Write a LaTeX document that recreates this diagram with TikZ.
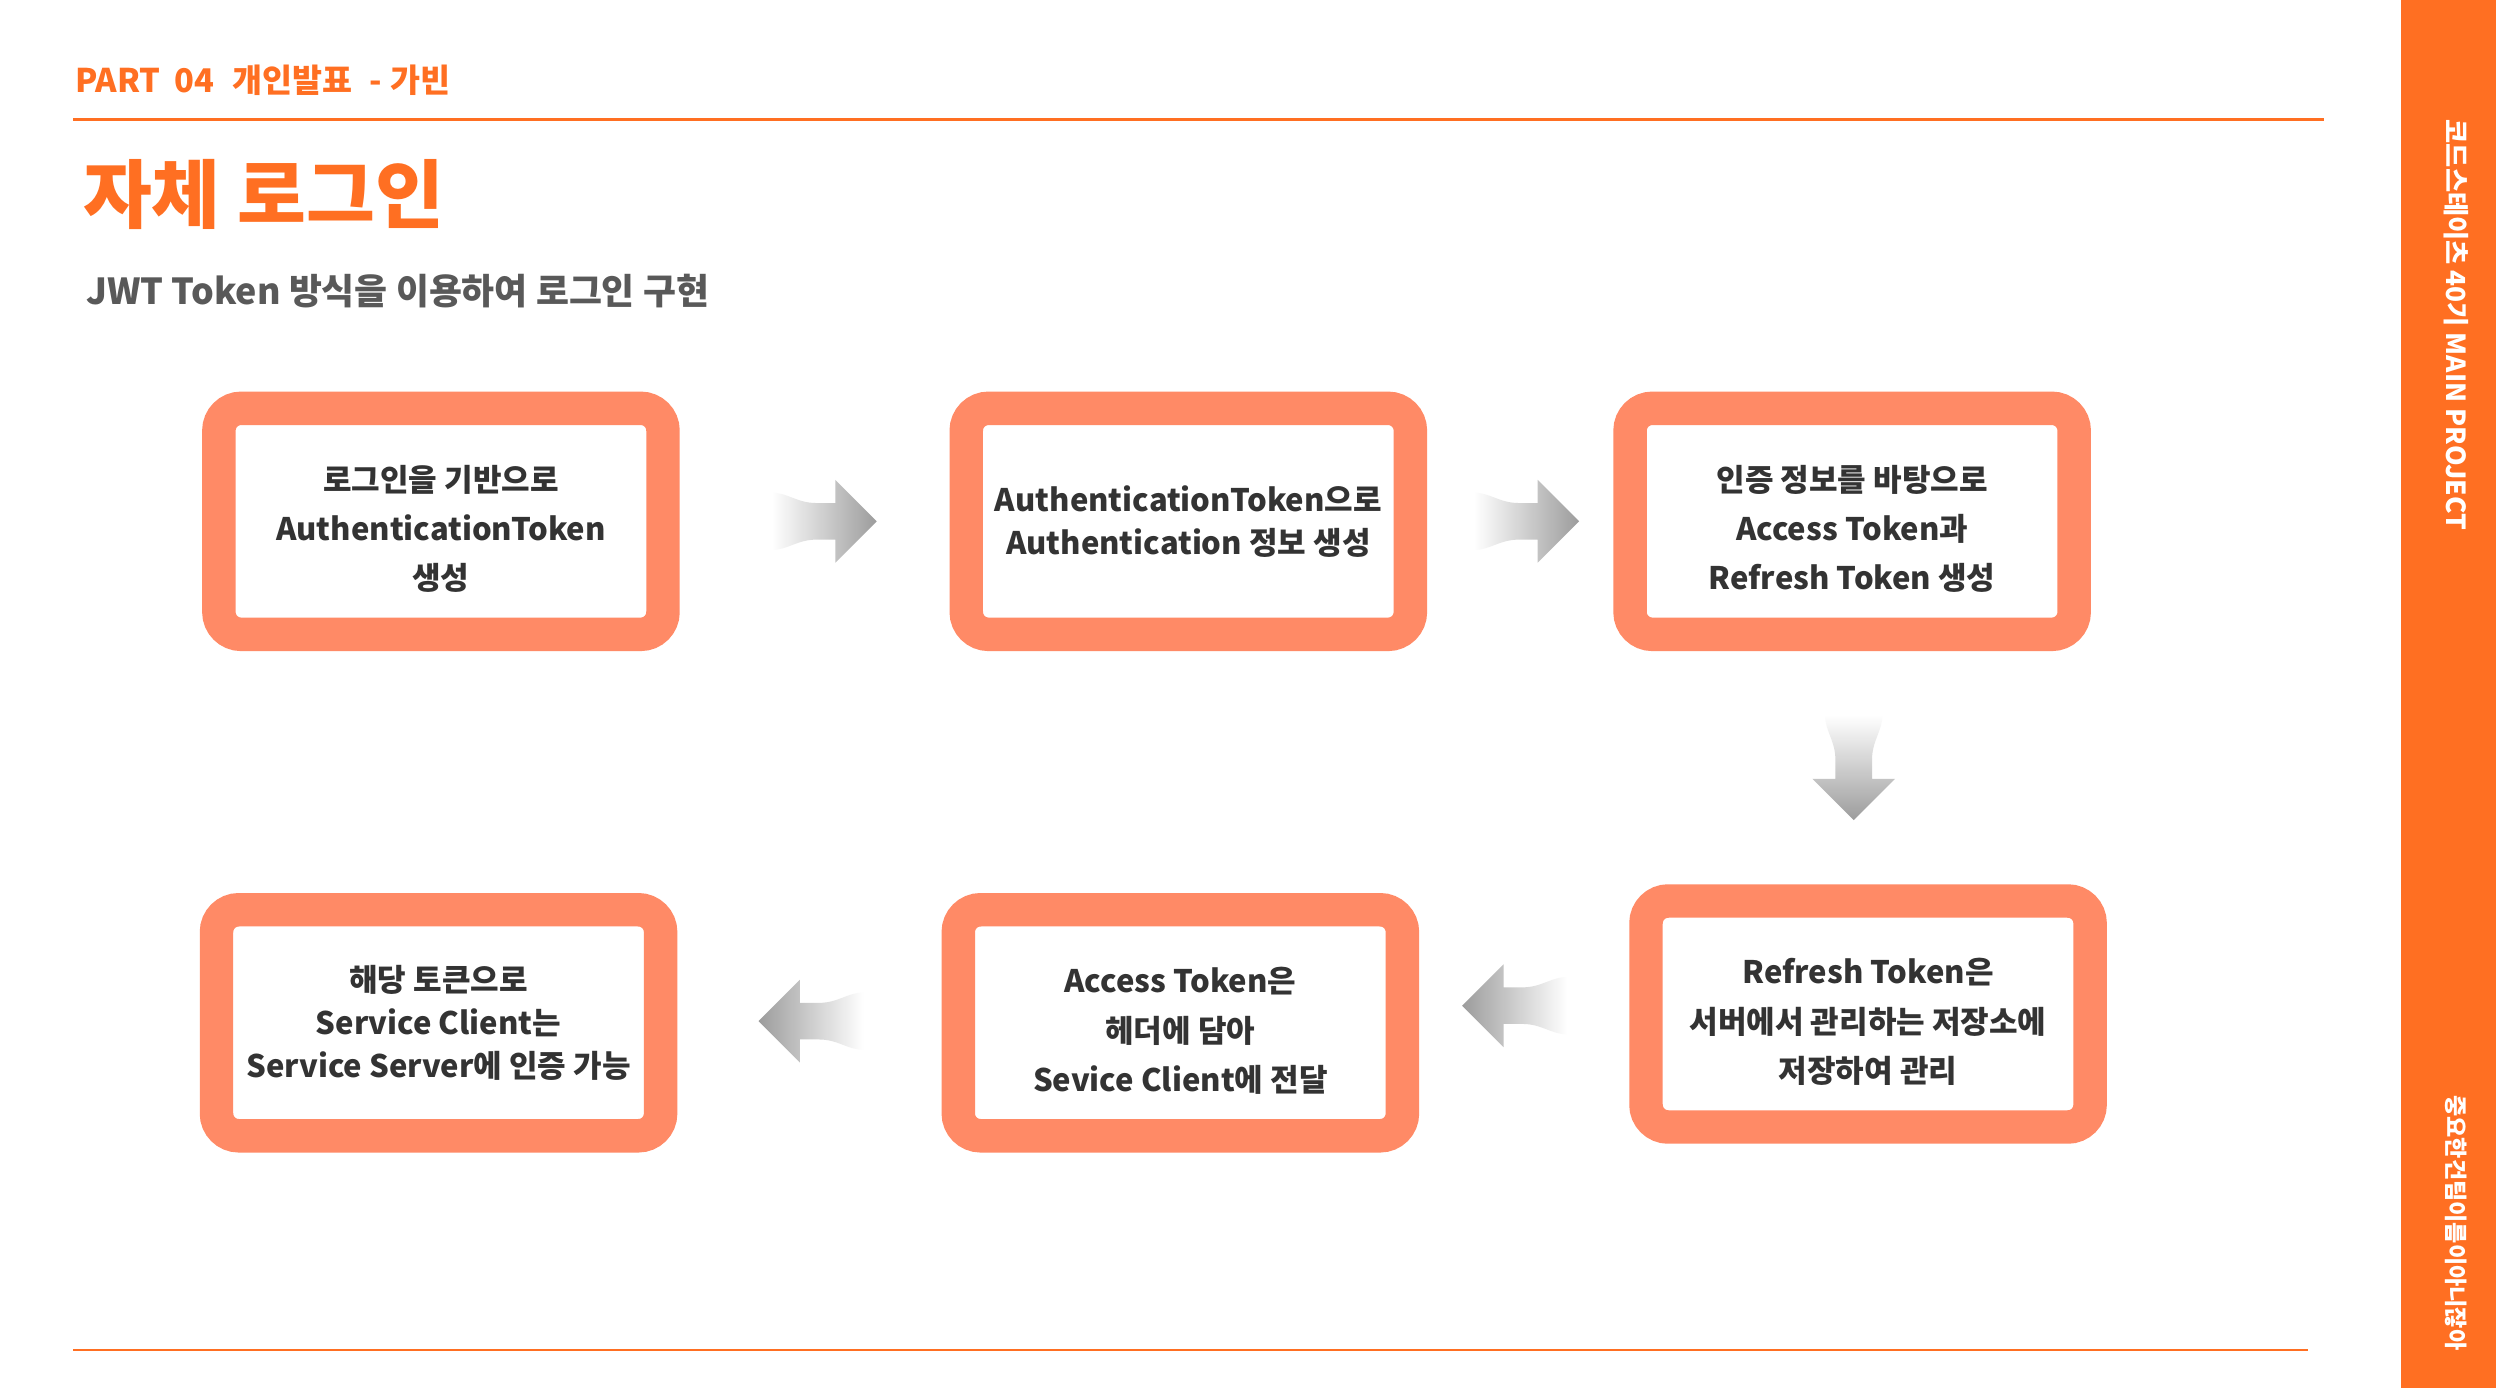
\documentclass[tikz,border=0pt]{standalone}
\usepackage{fontspec}
\setmainfont{Noto Sans CJK KR}
\usetikzlibrary{positioning, calc}

\definecolor{slideorange}{HTML}{FF6F22}
\definecolor{boxsalmon}{HTML}{FF8A66}
\definecolor{boxtext}{HTML}{333333}
\definecolor{subgray}{HTML}{595959}
\definecolor{arrowgray}{HTML}{9C9C9C}

\begin{document}
\begin{tikzpicture}[
        x=1pt, y=-1pt,
        stepbox/.style={rectangle, draw=boxsalmon, fill=white, line width=21pt, rounded corners=14pt,
                        minimum width=279pt, minimum height=142pt, inner sep=0pt, align=center,
                        text=boxtext, font=\fontsize{19.5}{31}\selectfont\bfseries},
        sidetext/.style={rotate=-90, text=white, inner sep=0pt, font=\fontsize{16.5}{16.5}\selectfont\bfseries},
        pics/flowarrow/.style={code={
            \shade[#1] (33,0) -- (7,-26) -- (7,-11.5) -- (-5,-11.5)
                .. controls (-17,-11.5) and (-23,-18) .. (-33,-18) -- (-33,18)
                .. controls (-23,18) and (-17,11.5) .. (-5,11.5) -- (7,11.5) -- (7,26) -- cycle;
        }}
    ]

        \fill[white] (0,0) rectangle (1568,872);
        \useasboundingbox (0,0) rectangle (1568,872);

        % --- HEADER ---
        \node[anchor=base west, inner sep=0pt, text=slideorange, font=\fontsize{20.5}{20.5}\selectfont\bfseries] (part) at (47,58)
            {PART\hspace{9pt}04\hspace{11pt}개인발표\hspace{11pt}-\hspace{5pt}가빈};
        \coordinate (topL) at (46,75);
        \coordinate (topR) at (1460,75);
        \draw[slideorange, line width=2pt] (topL) -- (topR);

        \node[anchor=west, inner sep=0pt, text=slideorange, font=\fontsize{47}{47}\selectfont\bfseries] (title) at (52,122) {자체 로그인};
        \node[anchor=west, inner sep=0pt, text=subgray, font=\fontsize{22.5}{22.5}\selectfont\bfseries] (subtitle) at (54,183)
            {JWT Token 방식을 이용하여 로그인 구현};

        % --- SIDE BAR ---
        \fill[slideorange] (1508,0) rectangle (1568,872);
        \node[sidetext, anchor=west] (project) at (1543,75) {코드스테이츠 40기 MAIN PROJECT};
        \node[sidetext, anchor=west, font=\fontsize{14.5}{14.5}\selectfont\bfseries] (motto) at (1543,688) {중요한건팀이름이아니잖아};

        % --- BOTTOM LINE ---
        \coordinate (botL) at (46,848);
        \coordinate (botR) at (1450,848);
        \draw[slideorange, line width=1.5pt] (botL) -- (botR);

        % --- TOP ROW ---
        \node[stepbox] (authtoken) at (277,327.5) {\rule{0pt}{26pt}로그인을 기반으로\\AuthenticationToken\\생성};
        \node[stepbox] (authinfo) at (746.5,327.5) {AuthenticationToken으로\\[-4pt]Authentication 정보 생성};
        \node[stepbox] (issue) at (1163.5,327.5) {\rule{0pt}{26pt}인증 정보를 바탕으로\\Access Token과\\Refresh Token 생성};

        % --- BOTTOM ROW ---
        \node[stepbox] (refresh) at (1173.5,637) {\rule{0pt}{26pt}Refresh Token은\\서버에서 관리하는 저장소에\\저장하여 관리};
        \node[stepbox] (deliver) at (741.5,642.5) {\rule{0pt}{26pt}Access Token은\\헤더에 담아\\Sevice Client에 전달};
        \node[stepbox] (verify) at (275.5,642.5) {해당 토큰으로\\[-4pt]Service Client는\\[-4pt]Service Server에 인증 가능};

        % --- ARROWS ---
        \pic at ($(authtoken.east)!0.5!(authinfo.west)+(6,0)$) {flowarrow={left color=white, right color=arrowgray}};
        \pic at ($(authinfo.east)!0.5!(issue.west)+(4,0)$) {flowarrow={left color=white, right color=arrowgray}};
        \pic[rotate=-90] at ($(issue.south)!0.5!(refresh.north)+(-4,0)$) {flowarrow={top color=white, bottom color=arrowgray}};
        \pic[rotate=180] at ($(deliver.east)!0.5!(refresh.west)+(-6,-8)$) {flowarrow={left color=arrowgray, right color=white}};
        \pic[rotate=180] at ($(verify.east)!0.5!(deliver.west)+(1,-1)$) {flowarrow={left color=arrowgray, right color=white}};

    \end{tikzpicture}
\end{document}
